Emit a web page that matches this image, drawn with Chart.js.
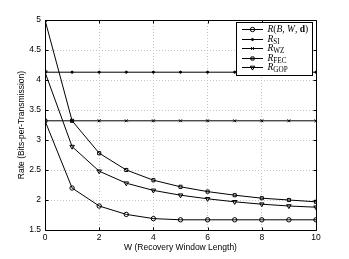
<!DOCTYPE html>
<html>
<head>
<meta charset="utf-8">
<script src="https://cdn.jsdelivr.net/npm/chart.js@4.4.1/dist/chart.umd.min.js"></script>
<style>
html,body{margin:0;padding:0;background:#fff;}
#wrap{position:relative;width:349px;height:259px;}
canvas{display:block;}
</style>
</head>
<body>
<div id="wrap"><canvas id="c" width="349" height="259"></canvas></div>
<script>
// ---- data ----
const W = [0, 1, 2, 3, 4, 5, 6, 7, 8, 9, 10];
const R_BWd = [3.32, 2.20, 1.90, 1.76, 1.69, 1.67, 1.67, 1.67, 1.67, 1.67, 1.67];
const R_SI  = [4.13, 4.13, 4.13, 4.13, 4.13, 4.13, 4.13, 4.13, 4.13, 4.13, 4.13];
const R_WZ  = [3.32, 3.32, 3.32, 3.32, 3.32, 3.32, 3.32, 3.32, 3.32, 3.32, 3.32];
const R_FEC = [5.00, 3.32, 2.78, 2.50, 2.33, 2.22, 2.14, 2.08, 2.03, 2.00, 1.97];
const R_GOP = [4.13, 2.89, 2.48, 2.28, 2.16, 2.08, 2.02, 1.97, 1.93, 1.90, 1.88];
const xTicks = [0, 2, 4, 6, 8, 10];
const yTicks = [1.5, 2, 2.5, 3, 3.5, 4, 4.5, 5];
const xTitle = 'W (Recovery Window Length)';
const yTitle = 'Rate (Bits-per-Transmission)';
// legend labels: [text, style, subscript]
const legendLabels = [
  [['R','italic',false],['(','normal',false],['B','italic',false],[', ','normal',false],['W','italic',false],[', ','normal',false],['d','bold',false],[')','normal',false]],
  [['R','italic',false],['SI','normal',true]],
  [['R','italic',false],['WZ','normal',true]],
  [['R','italic',false],['FEC','normal',true]],
  [['R','italic',false],['GOP','normal',true]]
];

const pts = arr => W.map((w, i) => ({x: w, y: arr[i]}));
const mk = (label, arr, style, radius, rot, fill) => ({
  label, data: pts(arr),
  borderColor: '#000', borderWidth: 1,
  pointStyle: style, pointRadius: radius, pointRotation: rot || 0,
  pointBorderColor: '#000', pointBorderWidth: 1,
  pointBackgroundColor: fill ? '#000' : 'rgba(0,0,0,0)',
  tension: 0, fill: false
});
const datasets = [
  mk('R(B,W,d)', R_BWd, 'circle', 2.2),
  mk('R_SI', R_SI, 'circle', 1.1, 0, true),
  mk('R_WZ', R_WZ, 'crossRot', 2),
  mk('R_FEC', R_FEC, 'rect', 2.2),
  mk('R_GOP', R_GOP, 'triangle', 2.6, 180)
];

const FONT = 'Liberation Sans, Arial, Helvetica, sans-serif';
const SERIF = 'Liberation Serif, Times New Roman, serif';

const framePlugin = {
  id: 'frame',
  afterDatasetsDraw(chart) {
    const {ctx, chartArea: a, scales} = chart;
    ctx.save();
    ctx.strokeStyle = '#000';
    ctx.lineWidth = 1;
    ctx.beginPath();
    const L = Math.round(a.left) + 0.5, R = Math.round(a.right) + 0.5;
    const T = Math.round(a.top) + 0.5, B = Math.round(a.bottom) + 0.5;
    ctx.rect(L, T, R - L, B - T);
    const tl = 3;
    xTicks.forEach(v => {
      const x = Math.round(scales.x.getPixelForValue(v)) + 0.5;
      ctx.moveTo(x, B); ctx.lineTo(x, B - tl);
      ctx.moveTo(x, T); ctx.lineTo(x, T + tl);
    });
    yTicks.forEach(v => {
      const y = Math.round(scales.y.getPixelForValue(v)) + 0.5;
      ctx.moveTo(L, y); ctx.lineTo(L + tl, y);
      ctx.moveTo(R, y); ctx.lineTo(R - tl, y);
    });
    ctx.stroke();

    // legend
    const bx = 236.5, by = 22.5, bw = 76, bh = 53;
    ctx.fillStyle = '#fff';
    ctx.fillRect(bx, by, bw, bh);
    ctx.strokeRect(bx, by, bw, bh);
    const rowH = 9.5, y0 = 29;
    chart.data.datasets.forEach((ds, i) => {
      const y = y0 + i * rowH;
      ctx.beginPath();
      ctx.strokeStyle = '#000';
      ctx.lineWidth = 1;
      ctx.moveTo(242, Math.round(y) + 0.5);
      ctx.lineTo(263, Math.round(y) + 0.5);
      ctx.stroke();
      ctx.fillStyle = ds.pointBackgroundColor;
      ctx.strokeStyle = '#000';
      Chart.helpers.drawPoint(ctx, {
        pointStyle: ds.pointStyle, radius: ds.pointRadius,
        rotation: ds.pointRotation, borderWidth: 1
      }, 252.5, Math.round(y) + 0.5);
      // text
      let tx = 267.5;
      ctx.fillStyle = '#000';
      ctx.textBaseline = 'alphabetic';
      ctx.textAlign = 'left';
      legendLabels[i].forEach(([t, st, sub]) => {
        const size = sub ? 7.2 : 9.5;
        const fs = st === 'italic' ? 'italic ' : (st === 'bold' ? 'bold ' : '');
        ctx.font = fs + size + 'px ' + SERIF;
        ctx.fillText(t, tx, y + 3 + (sub ? 2 : 0));
        tx += ctx.measureText(t).width;
      });
    });
    ctx.restore();
  }
};

new Chart(document.getElementById('c'), {
  type: 'line',
  data: {datasets},
  options: {
    responsive: false,
    animation: false,
    devicePixelRatio: 1,
    layout: {padding: {top: 20, right: 33, left: 0, bottom: 0}},
    plugins: {legend: {display: false}, tooltip: {enabled: false}},
    scales: {
      x: {
        type: 'linear', min: 0, max: 10,
        afterFit: s => { s.height = 29; },
        afterBuildTicks: s => { s.ticks = xTicks.map(v => ({value: v})); },
        ticks: {font: {family: FONT, size: 8.5}, color: '#000', padding: 3, maxRotation: 0,
                callback: v => String(v)},
        grid: {color: '#c4c4c4', lineWidth: 1, drawTicks: false},
        border: {display: false, dash: [1, 2]},
        title: {display: true, text: xTitle, font: {family: FONT, size: 8.5}, color: '#000',
                padding: {top: 0, bottom: 6.5}}
      },
      y: {
        type: 'linear', min: 1.5, max: 5,
        afterFit: s => { s.width = 45; },
        afterBuildTicks: s => { s.ticks = yTicks.map(v => ({value: v})); },
        ticks: {font: {family: FONT, size: 8.5}, color: '#000', padding: 4,
                callback: v => String(v)},
        grid: {color: '#c4c4c4', lineWidth: 1, drawTicks: false},
        border: {display: false, dash: [1, 2]},
        title: {display: true, text: yTitle, font: {family: FONT, size: 8.5}, color: '#000',
                padding: {top: 17, bottom: 0}}
      }
    }
  },
  plugins: [framePlugin]
});
</script>
</body>
</html>
